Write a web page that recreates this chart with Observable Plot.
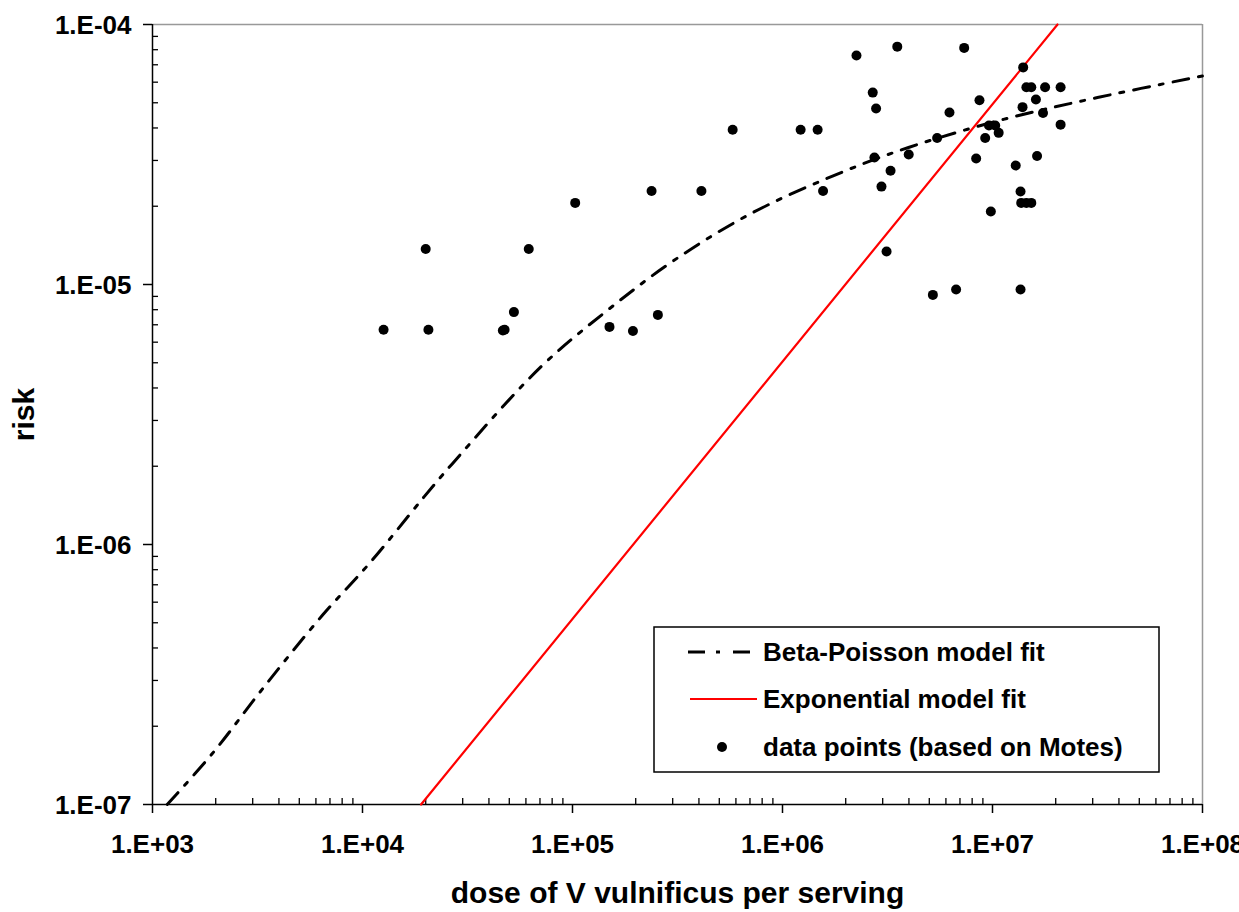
<!DOCTYPE html>
<html>
<head>
<meta charset="utf-8">
<script src="https://cdn.jsdelivr.net/npm/d3@7"></script>
<script src="https://cdn.jsdelivr.net/npm/@observablehq/plot@0.6"></script>
<style>
  html, body { margin: 0; padding: 0; background: #fff; }
  #chart svg { display: block; }
</style>
</head>
<body>
<div id="chart"></div>
<script>
// ---- data ----
const pointDose = [1.26e4, 2.0e4, 2.06e4, 4.66e4, 4.75e4, 5.26e4, 6.19e4, 1.03e5, 2.38e5, 4.11e5,
  1.50e5, 1.94e5, 2.55e5, 5.79e5, 1.22e6, 1.47e6, 1.56e6, 2.25e6, 3.52e6, 7.33e6,
  2.69e6, 2.79e6, 2.74e6, 3.99e6, 3.27e6, 2.96e6, 3.13e6, 5.45e6, 6.24e6, 8.36e6,
  8.67e6, 9.23e6, 9.62e6, 1.03e7, 1.07e7, 1.40e7, 1.45e7, 1.53e7, 1.78e7, 2.11e7,
  1.61e7, 1.39e7, 1.74e7, 2.11e7, 1.29e7, 1.63e7, 1.36e7, 1.37e7, 1.45e7, 1.53e7,
  9.82e6, 5.2e6, 6.71e6, 1.36e7];
const pointRisk = [6.7e-6, 1.37e-5, 6.7e-6, 6.65e-6, 6.7e-6, 7.83e-6, 1.37e-5, 2.06e-5, 2.29e-5, 2.29e-5,
  6.87e-6, 6.62e-6, 7.64e-6, 3.94e-5, 3.94e-5, 3.94e-5, 2.29e-5, 7.6e-5, 8.22e-5, 8.13e-5,
  5.47e-5, 4.75e-5, 3.08e-5, 3.16e-5, 2.74e-5, 2.38e-5, 1.34e-5, 3.66e-5, 4.59e-5, 3.05e-5,
  5.11e-5, 3.66e-5, 4.09e-5, 4.09e-5, 3.83e-5, 6.84e-5, 5.74e-5, 5.74e-5, 5.74e-5, 5.74e-5,
  5.15e-5, 4.81e-5, 4.57e-5, 4.12e-5, 2.87e-5, 3.12e-5, 2.28e-5, 2.06e-5, 2.06e-5, 2.06e-5,
  1.91e-5, 9.12e-6, 9.57e-6, 9.57e-6];

const betaDose = [1175, 1923, 3388, 6427, 10914, 19588, 26730, 70469, 146220, 303389,
  704693, 1753880, 3981072, 1.127e7, 3.162e7, 1e8];
const betaRisk = [1.0e-7, 1.567e-7, 2.825e-7, 5.33e-7, 8.55e-7, 1.521e-6, 2.042e-6, 4.81e-6, 7.94e-6, 1.236e-5,
  1.871e-5, 2.624e-5, 3.365e-5, 4.315e-5, 5.236e-5, 6.34e-5];

const expDose = [1.9e4, 2.04e7];
const expRisk = [1e-7, 1e-4];

const xTicks = [1e3, 1e4, 1e5, 1e6, 1e7, 1e8];
const xTickLabels = ["1.E+03", "1.E+04", "1.E+05", "1.E+06", "1.E+07", "1.E+08"];
const yTicks = [1e-7, 1e-6, 1e-5, 1e-4];
const yTickLabels = ["1.E-07", "1.E-06", "1.E-05", "1.E-04"];
const xTitle = "dose of V vulnificus per serving";
const yTitle = "risk";
const legendLabels = ["Beta-Poisson model fit", "Exponential model fit", "data points (based on Motes)"];

// ---- derived tables ----
const points = pointDose.map((d, i) => ({dose: d, risk: pointRisk[i]}));
const beta = betaDose.map((d, i) => ({dose: d, risk: betaRisk[i]}));
const expo = expDose.map((d, i) => ({dose: d, risk: expRisk[i]}));
const xMin = xTicks[0], xMax = xTicks[xTicks.length - 1];
const yMin = yTicks[0], yMax = yTicks[yTicks.length - 1];
const xMinor = [], yMinor = [];
for (let k = 0; k < xTicks.length - 1; k++) for (let m = 2; m <= 9; m++) xMinor.push(xTicks[k] * m);
for (let k = 0; k < yTicks.length - 1; k++) for (let m = 2; m <= 9; m++) yMinor.push(yTicks[k] * m);

const FONT = "'Liberation Sans', Arial, Helvetica, sans-serif";
const DASH = "16,10,4,10";

const chart = Plot.plot({
  width: 1239,
  height: 912,
  marginLeft: 152,
  marginRight: 37,
  marginTop: 24,
  marginBottom: 108,
  x: {type: "log", domain: [xMin, xMax], axis: null},
  y: {type: "log", domain: [yMin, yMax], axis: null},
  style: {fontFamily: FONT, background: "white", color: "black"},
  marks: [
    // gray top/right frame
    Plot.ruleY([yMax], {y: d => d, stroke: "#999", strokeWidth: 1.5}),
    Plot.ruleX([xMax], {x: d => d, stroke: "#999", strokeWidth: 1.5}),
    // minor ticks (inside)
    Plot.ruleX(xMinor, {x: d => d, y1: () => yMin, y2: () => yMin, insetTop: -6, stroke: "black", strokeWidth: 1.3}),
    Plot.ruleY(yMinor, {y: d => d, x1: () => xMin, x2: () => xMin, insetRight: -6, stroke: "black", strokeWidth: 1.3}),
    // major ticks (outside)
    Plot.ruleX(xTicks, {x: d => d, y1: () => yMin, y2: () => yMin, insetBottom: -9, stroke: "black", strokeWidth: 1.5}),
    Plot.ruleY(yTicks, {y: d => d, x1: () => xMin, x2: () => xMin, insetLeft: -9, stroke: "black", strokeWidth: 1.5}),
    // axis lines
    Plot.ruleX([xMin], {x: d => d, stroke: "black", strokeWidth: 1.5}),
    Plot.ruleY([yMin], {y: d => d, stroke: "black", strokeWidth: 1.5}),
    // tick labels
    Plot.text(xTicks, {x: d => d, y: () => yMin, text: (d, i) => xTickLabels[i], dy: 40,
      fontSize: 26, fontWeight: "bold", fill: "black"}),
    Plot.text(yTicks, {x: () => xMin, y: d => d, text: (d, i) => yTickLabels[i], dx: -21, dy: 1,
      textAnchor: "end", fontSize: 26, fontWeight: "bold", fill: "black"}),
    // axis titles
    Plot.text([xTitle], {text: d => d, frameAnchor: "bottom", lineAnchor: "middle", textAnchor: "middle",
      dy: 89, fontSize: 30, fontWeight: "bold", fill: "black"}),
    Plot.text([yTitle], {text: d => d, frameAnchor: "left", lineAnchor: "middle", textAnchor: "middle",
      dx: -128, rotate: -90, fontSize: 30, fontWeight: "bold", fill: "black"}),
    // series
    Plot.line(beta, {x: "dose", y: "risk", stroke: "black", strokeWidth: 3, strokeDasharray: DASH, curve: "catmull-rom"}),
    Plot.line(expo, {x: "dose", y: "risk", stroke: "#ff0000", strokeWidth: 2.2}),
    Plot.dot(points, {x: "dose", y: "risk", r: 5, fill: "black", stroke: null})
  ]
});

document.getElementById("chart").appendChild(chart);

// ---- legend inside the plot ----
const svg = d3.select(chart.tagName.toLowerCase() === "svg" ? chart : chart.querySelector("svg"));
const lg = svg.append("g").attr("font-family", FONT).attr("font-size", 26).attr("font-weight", "bold")
  .attr("text-anchor", "start");
lg.append("rect").attr("x", 654).attr("y", 627).attr("width", 505).attr("height", 145)
  .attr("fill", "white").attr("stroke", "black").attr("stroke-width", 1.5);
const rowY = [652, 699, 747];
lg.append("line").attr("x1", 688).attr("x2", 752).attr("y1", rowY[0]).attr("y2", rowY[0])
  .attr("stroke", "black").attr("stroke-width", 3).attr("stroke-dasharray", "17,11,4,13");
lg.append("line").attr("x1", 690).attr("x2", 757).attr("y1", rowY[1]).attr("y2", rowY[1])
  .attr("stroke", "#ff0000").attr("stroke-width", 2.2);
lg.append("circle").attr("cx", 722).attr("cy", rowY[2]).attr("r", 5).attr("fill", "black");
legendLabels.forEach((t, i) => {
  lg.append("text").attr("x", 763).attr("y", rowY[i]).attr("dy", "0.35em")
    .attr("text-anchor", "start").attr("fill", "black").text(t);
});
</script>
</body>
</html>
